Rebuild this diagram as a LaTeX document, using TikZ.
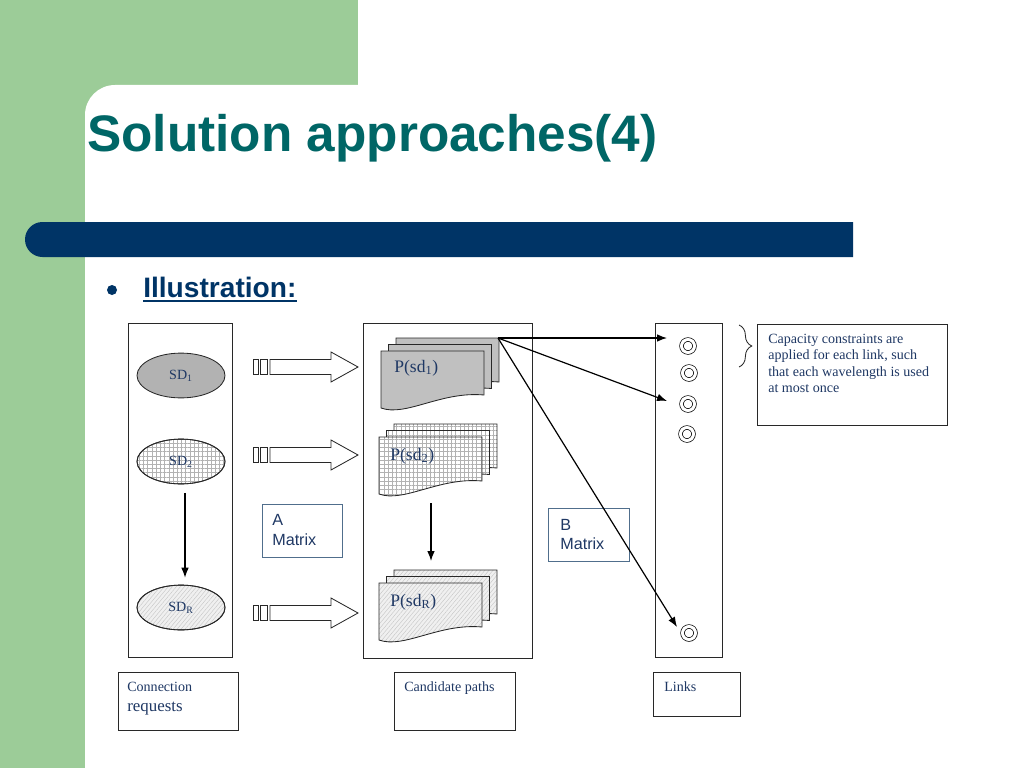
\documentclass[tikz,border=0pt]{standalone}
\usepackage{fontspec}
\setmainfont{Liberation Serif}
\newfontfamily\arialf{Liberation Sans}
\usetikzlibrary{shapes.geometric,arrows.meta,patterns.meta,decorations.pathreplacing}
\definecolor{bggreen}{RGB}{156,204,152}
\definecolor{barblue}{RGB}{0,52,102}
\definecolor{titleteal}{RGB}{0,102,102}
\definecolor{txtblue}{RGB}{31,56,100}
\definecolor{mbord}{RGB}{80,110,140}
\definecolor{docgray}{RGB}{192,192,192}
\definecolor{ellgray}{RGB}{178,178,178}
\definecolor{lin}{RGB}{40,40,40}

\newcommand\docpage[3]{\path[#3] ({#1},{#2}) -- ({#1+103},{#2}) -- ({#1+103},{#2+44}) .. controls ({#1+60},{#2+40}) and ({#1+25},{#2+66}) .. ({#1},{#2+57}) -- cycle;}
\newcommand\docstack[3]{\docpage{#1+15}{#2-13}{#3}\docpage{#1+7.5}{#2-6.5}{#3}\docpage{#1}{#2}{#3}}
\newcommand\blockarrow[1]{%
  \draw[blk] (253,{#1-7.5}) rectangle (258,{#1+7.5});
  \draw[blk] (260,{#1-7.5}) rectangle (267,{#1+7.5});
  \draw[blk] (270,{#1-7.5}) -- (331,{#1-7.5}) -- (331,{#1-15}) -- (358,{#1}) -- (331,{#1+15}) -- (331,{#1+7.5}) -- (270,{#1+7.5}) -- cycle;}

\begin{document}
\begin{tikzpicture}[x=0.025cm,y=-0.025cm,
  frame/.style={draw=lin,line width=0.6pt,inner sep=0,anchor=north west},
  mbox/.style={draw=mbord,line width=0.6pt,inner sep=0,anchor=north west},
  blk/.style={draw=lin,line width=0.6pt,fill=white},
  ell/.style={ellipse,draw=lin,line width=0.6pt,minimum width=2.2cm,minimum height=1.12cm,inner sep=0,text=txtblue,font=\fontsize{10}{12}\selectfont},
  doc/.style={draw=lin,line width=0.6pt},
  gridfill/.style={preaction={fill=white},pattern={Hatch[angle=0,distance=3pt,line width=0.3pt]},pattern color=gray!60},
  weavefill/.style={preaction={fill=gray!12},pattern={Lines[angle=50,distance=2.2pt,line width=0.3pt]},pattern color=gray!45},
  linkc/.style={circle,draw=black,double,double distance=0.075cm,minimum size=0.325cm,inner sep=0,line width=0.5pt},
  arr/.style={draw=black,line width=0.85pt,-{Latex[length=0.25cm,width=0.19cm]}},
  lbl/.style={inner sep=0,text=txtblue,anchor=base west},
  stxt/.style={inner sep=0,text=txtblue,anchor=north west,align=left,font=\arialf\fontsize{11.5}{14}\selectfont}]
\useasboundingbox (0,0) rectangle (1024,768);
% background
\fill[white] (0,0) rectangle (1024,768);
\fill[bggreen] (0,0) rectangle (85,768);
\fill[bggreen] (0,0) rectangle (358,120);
\fill[white] (85,400) -- (85,115) .. controls (85,98.4) and (98.4,85) .. (115,85) -- (500,85) -- (500,400) -- cycle;
\fill[barblue] (853,222) -- (42.5,222) .. controls (32.8,222) and (25,229.8) .. (25,239.5) .. controls (25,249.2) and (32.8,257) .. (42.5,257) -- (853,257) -- cycle;
% title
\node[anchor=base west,inner sep=0,text=titleteal,font=\arialf\bfseries\fontsize{36.5}{40}\selectfont] (title) at (87,151) {Solution approaches(4)};
\fill[barblue] (112,290) circle[radius=5];
\node[anchor=base west,inner sep=0,text=barblue,font=\arialf\bfseries\fontsize{20}{24}\selectfont] (ill) at (143,297) {Illustration:};
\draw[barblue,line width=1.4pt] ([yshift=-0.1cm]ill.base west) -- ([yshift=-0.1cm]ill.base east);

% frames
\node[frame,minimum width=104*0.025cm,minimum height=334*0.025cm] (creq) at (128,323) {};
\node[frame,minimum width=169*0.025cm,minimum height=335*0.025cm] (cpath) at (363,323) {};
\node[frame,minimum width=67*0.025cm,minimum height=334*0.025cm] (links) at (655,323) {};
\node[frame,minimum width=190*0.025cm,minimum height=101*0.025cm] (capbox) at (757,324) {};

% ellipses
\node[ell,fill=ellgray] (sd1) at (181,375.5) {SD\textsubscript{1}};
\node[ell,gridfill] (sd2) at (181,461.5) {};
\node[ell,text=txtblue] at (sd2) {SD\textsubscript{2}};
\node[ell,weavefill] (sdr) at (181,607.5) {};
\node[ell] at (sdr) {SD\textsubscript{R}};
\draw[arr] ([xshift=0.1cm,yshift=-0.22cm]sd2.south) -- ([xshift=0.1cm,yshift=0.18cm]sdr.north);

% block arrows
\blockarrow{367}
\blockarrow{455}
\blockarrow{613}

% matrix boxes
\node[mbox,minimum width=80*0.025cm,minimum height=53*0.025cm] (amat) at (262,504) {};
\node[stxt] at ([xshift=0.25cm,yshift=-0.25cm]amat.north west) {A\\Matrix};
\node[mbox,minimum width=81*0.025cm,minimum height=53*0.025cm] (bmat) at (548,508) {};
\node[stxt] at ([xshift=0.3cm,yshift=-0.27cm]bmat.north west) {B\\Matrix};

% document stacks
\docstack{381}{351}{doc,fill=docgray}
\docstack{379}{437}{doc,gridfill}
\docstack{379}{583}{doc,weavefill}
\node[lbl,font=\fontsize{12.5}{14}\selectfont] (p1) at (394,372) {P(sd\textsubscript{1})};
\node[lbl,font=\fontsize{12.5}{14}\selectfont] (p2) at (390,460) {P(sd\textsubscript{2})};
\node[lbl,font=\fontsize{12.5}{14}\selectfont] (pr) at (390,606) {P(sd\textsubscript{R})};
\coordinate (p2b) at (431,503);
\coordinate (prt) at (431,561);
\draw[arr] (p2b) -- (prt);

% links
\node[linkc] (l1) at (688,346) {};
\node[linkc] (l2) at (689,373) {};
\node[linkc] (l3) at (688,404) {};
\node[linkc] (l4) at (687,434) {};
\node[linkc] (l5) at (689,633) {};
\coordinate (pc) at (498,338);
\coordinate (e1) at (667,338);
\coordinate (e2) at (667,401);
\coordinate (e3) at (677,627);
\draw[arr] (pc) -- (e1);
\draw[arr] (pc) -- (e2);
\draw[arr] (pc) -- (e3);

% brace and caption
\draw[lin,line width=0.6pt,decorate,decoration={brace,amplitude=0.32cm}] (739,325) -- (739,367);
\node[inner sep=0,text=txtblue,anchor=north west,align=left,font=\fontsize{10}{11.8}\selectfont] (cap) at (768,333.5) {Capacity constraints are\\applied for each link, such\\that each wavelength is used\\at most once};

% bottom label boxes
\node[frame,minimum width=120*0.025cm,minimum height=58*0.025cm] (b1) at (118,672) {};
\node[lbl,font=\fontsize{10}{12}\selectfont] at (127,691) {Connection};
\node[lbl,font=\fontsize{12}{14}\selectfont] at (127,711) {requests};
\node[frame,minimum width=121*0.025cm,minimum height=58*0.025cm] (b2) at (394,672) {};
\node[lbl,font=\fontsize{10}{12}\selectfont] at (404,691) {Candidate paths};
\node[frame,minimum width=87*0.025cm,minimum height=44*0.025cm] (b3) at (653,672) {};
\node[lbl,font=\fontsize{10}{12}\selectfont] at (664,691) {Links};
\end{tikzpicture}
\end{document}
